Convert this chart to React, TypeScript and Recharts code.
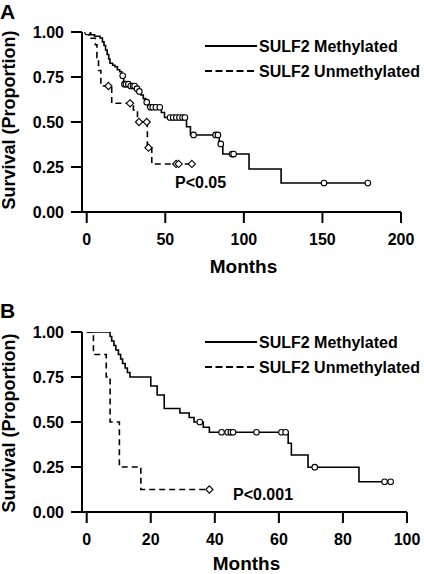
import React from 'react';
import { ComposedChart, Line, Scatter, XAxis, YAxis, Legend } from 'recharts';

const FONT = '"Liberation Sans", Arial, sans-serif';

const seriesNames = ['SULF2 Methylated', 'SULF2 Unmethylated'];
const yTicks = [0, 0.25, 0.5, 0.75, 1];

// Panel A
const aXTicks = [0, 50, 100, 150, 200];
const aMethMonths = [0, 2.5, 5, 8.5, 10, 11, 12, 13, 14, 14.8, 16.5, 18, 19.5, 21, 22.3, 23.5, 27, 31, 33, 34.5, 36, 37.5, 38.8, 47.5, 49.5, 63.5, 66, 84.3, 86.6, 103.3, 123.7, 178.9];
const aMethSurv = [1, 0.985, 0.976, 0.967, 0.945, 0.925, 0.9, 0.875, 0.85, 0.826, 0.815, 0.807, 0.79, 0.779, 0.757, 0.71, 0.7, 0.685, 0.67, 0.65, 0.63, 0.61, 0.582, 0.553, 0.525, 0.474, 0.428, 0.378, 0.322, 0.239, 0.161, 0.161];
const aMethCensor = [0.5, 22.9, 24, 25, 26.5, 28, 29.5, 30.5, 32, 33.5, 38.2, 40.5, 42, 44, 46.5, 53, 55, 57, 59, 61, 62.5, 68, 82, 83.5, 85.3, 92.5, 93.5, 151, 178.9];
const aUnmMonths = [0, 1.5, 5.5, 6.5, 7.5, 9, 15.9, 29.7, 32.3, 38.6, 41.4, 66.9];
const aUnmSurv = [1, 0.965, 0.929, 0.857, 0.786, 0.7, 0.604, 0.567, 0.5, 0.357, 0.267, 0.267];
const aUnmCensor = [13.8, 27.6, 33.3, 38.2, 39.3, 56.9, 58.5, 66.9];

// Panel B
const bXTicks = [0, 20, 40, 60, 80, 100];
const bMethMonths = [0, 7.3, 7.8, 8.5, 9.1, 9.9, 10.6, 11.2, 12, 12.7, 13.5, 20, 22, 24.2, 29.1, 32, 33.5, 36.4, 38.3, 62.9, 63.9, 69.1, 85, 94.9];
const bMethSurv = [1, 0.975, 0.95, 0.925, 0.9, 0.875, 0.85, 0.825, 0.8, 0.775, 0.75, 0.7, 0.65, 0.575, 0.55, 0.525, 0.5, 0.471, 0.443, 0.382, 0.317, 0.249, 0.168, 0.168];
const bMethCensor = [35.3, 42.1, 44, 45, 45.7, 53, 60.8, 62.1, 71.2, 93, 94.9];
const bUnmMonths = [0, 2.1, 6.1, 7.3, 10.2, 16.9, 38.3];
const bUnmSurv = [1, 0.875, 0.75, 0.5, 0.25, 0.125, 0.125];
const bUnmCensor = [38.3];

const toSteps = (months: number[], surv: number[]) => months.map((m, i) => ({ m, s: surv[i] }));
const survAt = (months: number[], surv: number[], t: number) => {
  let v = surv[0];
  for (let i = 0; i < months.length; i++) if (months[i] <= t) v = surv[i];
  return v;
};
const toCensor = (months: number[], surv: number[], cens: number[]) =>
  cens.map((m) => ({ m, s: survAt(months, surv, m) }));

const CircleMark = (p: any) => (
  <circle cx={p.cx} cy={p.cy} r={2.8} fill="#fff" stroke="#000" strokeWidth={1.1} />
);
const DiamondMark = (p: any) => {
  const r = 3.6;
  return (
    <polygon
      points={`${p.cx},${p.cy - r} ${p.cx + r},${p.cy} ${p.cx},${p.cy + r} ${p.cx - r},${p.cy}`}
      fill="#fff"
      stroke="#000"
      strokeWidth={1.1}
    />
  );
};

const LegendBox = () => (
  <div style={{ fontFamily: FONT, fontWeight: 'bold', fontSize: 16, color: '#000' }}>
    {seriesNames.map((n, i) => (
      <div key={n} style={{ display: 'flex', alignItems: 'center', height: 25, lineHeight: '25px', whiteSpace: 'nowrap' }}>
        <svg width={52} height={4} style={{ display: 'block', marginRight: 2 }}>
          <line x1={0} y1={2} x2={52} y2={2} stroke="#000" strokeWidth={1.8} strokeDasharray={i === 1 ? '7 3.5' : undefined} />
        </svg>
        <span>{n}</span>
      </div>
    ))}
  </div>
);

type PanelProps = {
  top: number;
  height: number;
  margin: { top: number; right: number; bottom: number; left: number };
  domain: [number, number];
  xTicks: number[];
  meth: { months: number[]; surv: number[]; censor: number[] };
  unm: { months: number[]; surv: number[]; censor: number[] };
  legendTop: number;
};

const tickStyle = { fill: '#000', fontSize: 16, fontWeight: 'bold', fontFamily: FONT } as any;

const Panel = ({ top, height, margin, domain, xTicks, meth, unm, legendTop }: PanelProps) => (
  <div style={{ position: 'absolute', left: 0, top, width: 424, height }}>
    <ComposedChart width={424} height={height} margin={margin}>
      <XAxis
        type="number"
        dataKey="m"
        domain={domain}
        allowDataOverflow
        ticks={xTicks}
        interval={0}
        height={40}
        tickSize={11}
        tickMargin={11}
        tick={tickStyle}
        axisLine={{ stroke: '#000', strokeWidth: 2 }}
        tickLine={{ stroke: '#000', strokeWidth: 2 }}
      />
      <YAxis
        type="number"
        dataKey="s"
        domain={[0, 1]}
        allowDataOverflow
        ticks={yTicks}
        interval={0}
        width={82}
        tickSize={11}
        tickMargin={7}
        tick={tickStyle}
        tickFormatter={(v: number) => v.toFixed(2)}
        axisLine={{ stroke: '#000', strokeWidth: 2 }}
        tickLine={{ stroke: '#000', strokeWidth: 2 }}
      />
      <Legend
        layout="vertical"
        align="center"
        verticalAlign="middle"
        wrapperStyle={{ position: 'absolute', left: 205, top: legendTop, width: 215 }}
        content={() => <LegendBox />}
      />
      <Line
        data={toSteps(meth.months, meth.surv)}
        dataKey="s"
        name={seriesNames[0]}
        type="stepAfter"
        stroke="#000"
        strokeWidth={1.6}
        dot={false}
        activeDot={false}
        isAnimationActive={false}
      />
      <Line
        data={toSteps(unm.months, unm.surv)}
        dataKey="s"
        name={seriesNames[1]}
        type="stepAfter"
        stroke="#000"
        strokeWidth={1.6}
        strokeDasharray="6 4"
        dot={false}
        activeDot={false}
        isAnimationActive={false}
      />
      <Scatter
        data={toCensor(meth.months, meth.surv, meth.censor)}
        dataKey="s"
        shape={CircleMark}
        isAnimationActive={false}
        legendType="none"
      />
      <Scatter
        data={toCensor(unm.months, unm.surv, unm.censor)}
        dataKey="s"
        shape={DiamondMark}
        isAnimationActive={false}
        legendType="none"
      />
    </ComposedChart>
  </div>
);

const textStyle = { fontFamily: FONT, fontWeight: 'bold', fill: '#000' } as any;

export default function App() {
  return (
    <div style={{ position: 'absolute', left: 0, top: 0, width: 424, height: 574, background: '#fff', overflow: 'hidden' }}>
      <Panel
        top={0}
        height={290}
        margin={{ top: 32, right: 23, bottom: 38, left: 0 }}
        domain={[-3, 200]}
        xTicks={aXTicks}
        meth={{ months: aMethMonths, surv: aMethSurv, censor: aMethCensor }}
        unm={{ months: aUnmMonths, surv: aUnmSurv, censor: aUnmCensor }}
        legendTop={33.5}
      />
      <Panel
        top={290}
        height={284}
        margin={{ top: 42, right: 17, bottom: 22, left: 0 }}
        domain={[-1.47, 100]}
        xTicks={bXTicks}
        meth={{ months: bMethMonths, surv: bMethSurv, censor: bMethCensor }}
        unm={{ months: bUnmMonths, surv: bUnmSurv, censor: bUnmCensor }}
        legendTop={39.5}
      />
      <svg width={424} height={574} style={{ position: 'absolute', left: 0, top: 0, pointerEvents: 'none' }}>
        <text x={0} y={18.5} fontSize={21} {...textStyle}>A</text>
        <text x={0} y={318} fontSize={21} {...textStyle}>B</text>
        <text transform="translate(14.5,120) rotate(-90)" textAnchor="middle" fontSize={18} {...textStyle}>Survival (Proportion)</text>
        <text transform="translate(14.5,423) rotate(-90)" textAnchor="middle" fontSize={18} {...textStyle}>Survival (Proportion)</text>
        <text x={243.5} y={272.5} textAnchor="middle" fontSize={19} {...textStyle}>Months</text>
        <text x={246.5} y={569.5} textAnchor="middle" fontSize={19} {...textStyle}>Months</text>
        <text x={175} y={188} fontSize={16} {...textStyle}>P&lt;0.05</text>
        <text x={233} y={500} fontSize={16} {...textStyle}>P&lt;0.001</text>
      </svg>
    </div>
  );
}
